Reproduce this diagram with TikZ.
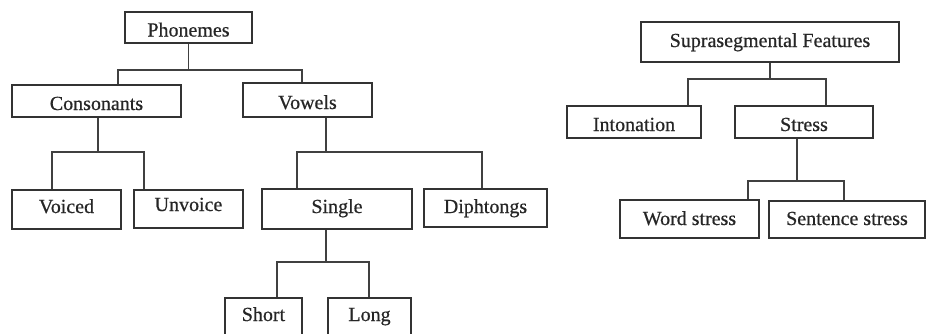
\documentclass[tikz,border=0pt]{standalone}
\usepackage{fontspec}
\setmainfont{Liberation Serif}
\newfontfamily\diagfont{Liberation Serif}[FakeBold=0.6]
\begin{document}
\begin{tikzpicture}[x=1pt,y=-1pt,
  box/.style={draw=black!80,line width=1.6pt,inner sep=0pt,text=black!85,
    font=\diagfont\fontsize{20}{24}\selectfont},
  bl/.style 2 args={text height=#1pt,text depth=#2pt},
  conn/.style={draw=black!75,line width=1.6pt}]
\useasboundingbox (0,0) rectangle (926,333);
\clip (0,0) rectangle (926,333);
\fill[white] (0,0) rectangle (926,333);
% left tree
\node[box,bl={19}{1},minimum width=127pt,minimum height=31pt] (phon) at (188.5,27.5) {Phonemes};
\node[box,bl={19}{1},minimum width=169pt,minimum height=32pt] (cons) at (96.5,101) {Consonants};
\node[box,bl={19}{1},minimum width=129pt,minimum height=34pt] (vow) at (307.5,100) {Vowels};
\node[box,bl={13.5}{6.5},minimum width=109pt,minimum height=39pt] (voiced) at (66.5,209.5) {Voiced};
\node[box,bl={12}{8},minimum width=109pt,minimum height=38pt] (unv) at (188.5,209) {Unvoice};
\node[box,bl={14}{6},minimum width=150pt,minimum height=40pt] (single) at (337,209) {Single};
\node[box,bl={15}{5},minimum width=123pt,minimum height=38pt] (diph) at (485.5,208) {Diphtongs};
\node[box,bl={13}{7},minimum width=77pt,minimum height=40pt] (short) at (263.5,318) {Short};
\node[box,bl={13}{7},minimum width=83pt,minimum height=40pt] (long) at (369.5,318) {Long};
% right tree
\node[box,bl={15}{5},minimum width=258pt,minimum height=40pt] (supra) at (770,42) {Suprasegmental Features};
\node[box,bl={19}{1},minimum width=134pt,minimum height=32pt] (inton) at (634,122) {Intonation};
\node[box,bl={19}{1},minimum width=138pt,minimum height=32pt] (stress) at (804,122) {Stress};
\node[box,bl={16}{4},minimum width=139pt,minimum height=38pt] (word) at (689.5,219) {Word stress};
\node[box,bl={15.5}{4.5},minimum width=156pt,minimum height=37pt] (sent) at (847,219.5) {Sentence stress};
% connectors
\draw[conn] (phon.south) -- (phon.south |- 0,70);
\draw[conn] (cons.north -| 118,0) -- (118,70) -- (302,70) -- (vow.north -| 302,0);
\draw[conn] (cons.south -| 98,0) -- (98,152);
\draw[conn] (voiced.north -| 52,0) -- (52,152) -- (144,152) -- (unv.north -| 144,0);
\draw[conn] (vow.south -| 326,0) -- (326,152);
\draw[conn] (single.north -| 297,0) -- (297,152) -- (482,152) -- (diph.north -| 482,0);
\draw[conn] (single.south -| 326,0) -- (326,262);
\draw[conn] (short.north -| 277,0) -- (277,262) -- (369,262) -- (long.north -| 369,0);
\draw[conn] (supra.south) -- (supra.south |- 0,79);
\draw[conn] (inton.north -| 688,0) -- (688,79) -- (826,79) -- (stress.north -| 826,0);
\draw[conn] (stress.south -| 797,0) -- (797,181);
\draw[conn] (word.north -| 748,0) -- (748,181) -- (844,181) -- (sent.north -| 844,0);
\end{tikzpicture}
\end{document}
